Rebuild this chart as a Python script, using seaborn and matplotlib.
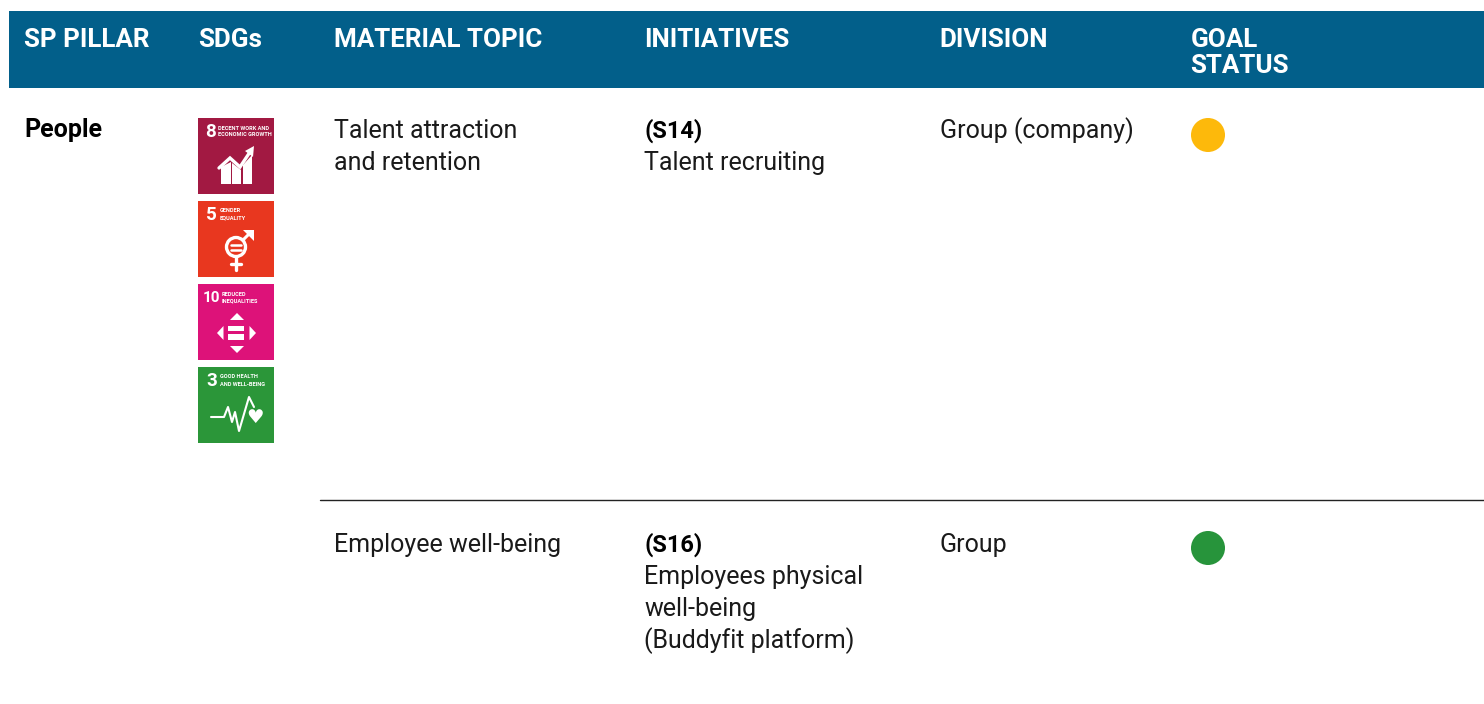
import numpy as np
import pandas as pd
import matplotlib
matplotlib.use("Agg")
import matplotlib.pyplot as plt
from matplotlib.patches import Rectangle, Polygon, Circle
import seaborn as sns

# table content
headers = [["SP PILLAR"], ["SDGs"], ["MATERIAL TOPIC"], ["INITIATIVES"], ["DIVISION"], ["GOAL", "STATUS"]]
pillar = "People"
topics = [["Talent attraction", "and retention"], ["Employee well-being"]]
codes = ["(S14)", "(S16)"]
initiatives = [["Talent recruiting"], ["Employees physical", "well-being", "(Buddyfit platform)"]]
divisions = ["Group (company)", "Group"]
status = ["amber", "green"]

sdg_numbers = ["8", "5", "10", "3"]
sdg_labels = ["DECENT WORK AND\nECONOMIC GROWTH", "GENDER\nEQUALITY", "REDUCED\nINEQUALITIES", "GOOD HEALTH\nAND WELL-BEING"]
sdg_colors = ["#A21942", "#E8371F", "#DD1279", "#2B9639"]

# layout, in pixels of the original
col_x = [24.5, 198, 334.5, 644.5, 939.5, 1190.5]
row_base = [138, 552]
line_h = 32
icon_left = 198
icon_top = [118, 201, 284, 367]
icon_size = 76
num_x = [7, 8, 5, 8]
num_size = [13.5, 13.5, 11, 13.5]
label_x = [20, 22, 24, 22]
blue = "#025F8A"
text_col = "#1a1a1a"
status_colors = {"amber": "#FDB90B", "green": "#27943B"}

sns.set_theme(style="white")
plt.rcParams["font.family"] = ["Roboto", "DejaVu Sans"]

fig, ax = plt.subplots(figsize=(14.84, 7.04), dpi=100)
ax.set_position([0, 0, 1, 1])
ax.set_xlim(0, 1484)
ax.set_ylim(704, 0)
ax.axis("off")

# header band
ax.add_patch(Rectangle((9, 11), 1475, 77, fc=blue, ec="none"))
for x, lines in zip(col_x, headers):
    for j, h in enumerate(lines):
        ax.text(x, 47 + j * 26, h, color="white", fontsize=18.7, fontweight="bold", va="baseline", ha="left")

# row separator
ax.plot([320, 1484], [500, 500], color="#222222", lw=1.0)

ax.text(col_x[0] - 0.5, row_base[0] - 1, pillar, fontsize=18, fontweight="bold", color="black", va="baseline")


def body(x, y, s):
    ax.text(x, y, s, fontsize=18, color=text_col, va="baseline", ha="left")


for i, y in enumerate(row_base):
    for j, s in enumerate(topics[i]):
        body(col_x[2], y + j * line_h, s)
    ax.text(col_x[3], y, codes[i], fontsize=17, fontweight="bold", color="black", va="baseline")
    for j, s in enumerate(initiatives[i]):
        body(col_x[3], y + (j + 1) * line_h, s)
    body(col_x[4], y, divisions[i])

# goal status dots
dots = pd.DataFrame({"x": [1208, 1208], "y": [135, 548], "status": status})
sns.scatterplot(data=dots, x="x", y="y", hue="status", palette=status_colors, s=600,
                linewidth=0, legend=False, ax=ax, zorder=3)
ax.set_xlabel("")
ax.set_ylabel("")


def draw_growth(px):
    # three bars and the rising arrow
    for a, b, t1, t2 in [(23, 33, 49, 44), (34, 43, 45, 52), (45, 54, 47, 37)]:
        ax.add_patch(Polygon([px(a, 66), px(b, 66), px(b, t2), px(a, t1)], fc="white", ec="none", zorder=3))
    pts = np.array([px(21, 50), px(32, 40), px(42, 49), px(52, 34)])
    ax.plot(pts[:, 0], pts[:, 1], color="white", lw=2.4, zorder=3, solid_joinstyle="miter")
    ax.add_patch(Polygon([px(56, 28), px(55, 39), px(47, 33)], fc="white", ec="none", zorder=3))


def draw_gender(px):
    ax.add_patch(Circle(px(38, 46), 9.5, fc="none", ec="white", lw=2.4, zorder=3))
    a = np.array([px(45, 39), px(52, 32)])
    ax.plot(a[:, 0], a[:, 1], color="white", lw=2.2, zorder=3)
    ax.add_patch(Polygon([px(56, 29), px(56, 40), px(45, 29)], fc="white", ec="none", zorder=3))
    ax.plot(*np.array([px(38, 56), px(38, 69)]).T, color="white", lw=2.4, zorder=3)
    ax.plot(*np.array([px(33, 63), px(43, 63)]).T, color="white", lw=2.4, zorder=3)
    ax.plot(*np.array([px(33, 43.5), px(43, 43.5)]).T, color="white", lw=1.8, zorder=3)
    ax.plot(*np.array([px(33, 48.5), px(43, 48.5)]).T, color="white", lw=1.8, zorder=3)


def draw_inequal(px):
    for tri in [[(39, 29), (32, 36), (46, 36)], [(39, 69), (32, 62), (46, 62)],
                [(19, 49), (25.5, 42), (25.5, 56)], [(58, 49), (51.5, 42), (51.5, 56)]]:
        ax.add_patch(Polygon([px(*p) for p in tri], fc="white", ec="none", zorder=3))
    ax.add_patch(Rectangle(px(30, 42), 16, 5, fc="white", ec="none", zorder=3))
    ax.add_patch(Rectangle(px(30, 50), 16, 6, fc="white", ec="none", zorder=3))


def draw_health(px):
    pts = np.array([px(13, 50), px(26, 50), px(30, 40), px(34, 55), px(37, 45),
                    px(41, 64), px(51, 30), px(56, 40)])
    ax.plot(pts[:, 0], pts[:, 1], color="white", lw=1.5, zorder=3)
    ax.text(*px(57.5, 50.5), "\u2665", color="white", fontsize=14, family="DejaVu Sans", ha="center", va="center", zorder=3)


icon_draw = [draw_growth, draw_gender, draw_inequal, draw_health]

for k, top in enumerate(icon_top):
    ax.add_patch(Rectangle((icon_left, top), icon_size, icon_size, fc=sdg_colors[k], ec="none", zorder=2))
    ax.text(icon_left + num_x[k], top + 14, sdg_numbers[k], color="white", fontsize=num_size[k], fontweight="bold",
            va="center", ha="left", zorder=3)
    ax.text(icon_left + label_x[k], top + 13.5, sdg_labels[k], color="white", fontsize=4.05, fontweight="bold",
            va="center", ha="left", linespacing=1.5, zorder=3)
    draw_fn = icon_draw[k]
    draw_fn(lambda a, b, t=top: (icon_left + a, t + b))

plt.savefig("out.png", dpi=100)
plt.close()
